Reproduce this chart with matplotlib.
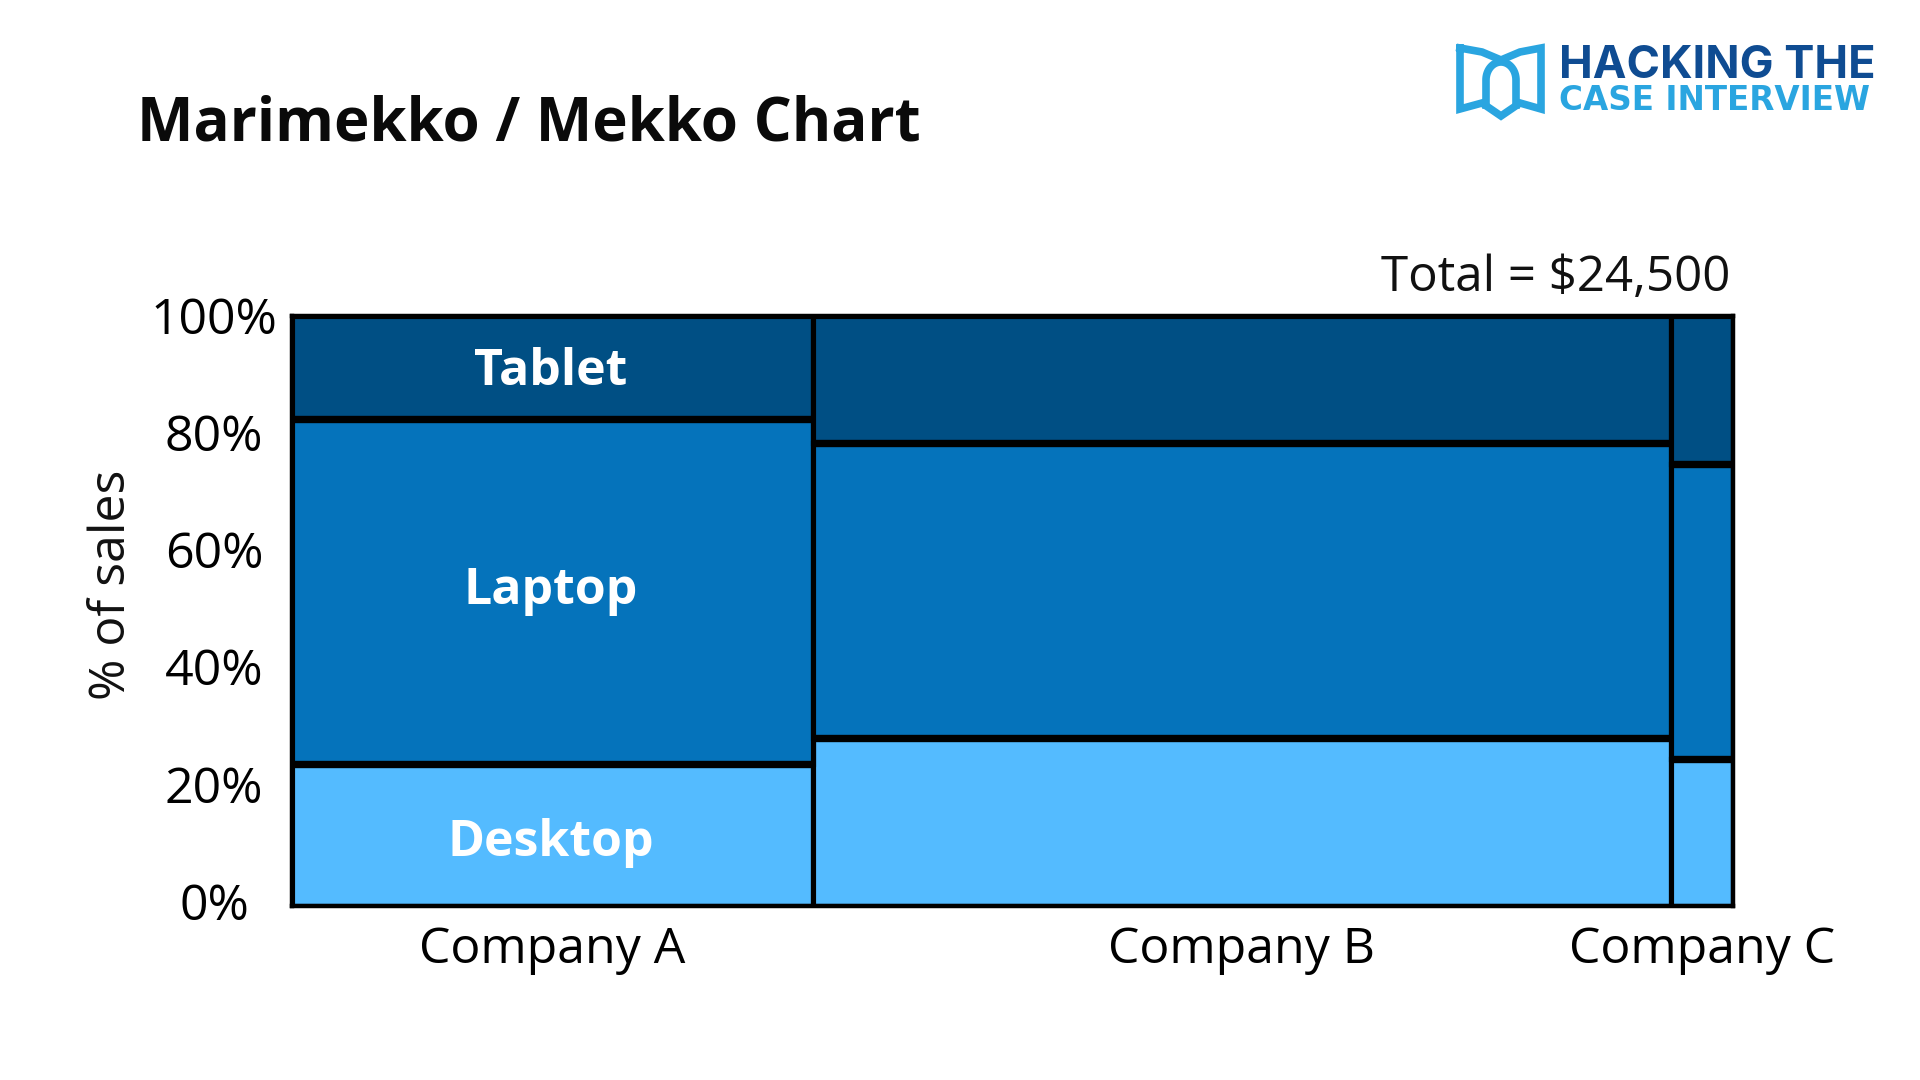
#
# Marimekko chart of sales share by company and product type.
#

import matplotlib
matplotlib.use('Agg')
import matplotlib.pyplot as plt
from matplotlib.transforms import ScaledTranslation
import numpy as np


#######################################################################


companies = ['Company A', 'Company B', 'Company C']
company_sales = [8850, 14600, 1050]

products = ['Desktop', 'Laptop', 'Tablet']
desktop_share = [24.0, 28.5, 25.0]
laptop_share = [58.5, 50.0, 50.0]
tablet_share = [17.5, 21.5, 25.0]

y_ticks = [0, 20, 40, 60, 80, 100]
total_label = 'Total = $24,500'

colours = ['#54BBFF', '#0573BB', '#004F84']


#######################################################################


plt.rcParams['font.family'] = ['Open Sans', 'DejaVu Sans']

W, H = 1920, 1080
fig = plt.figure(figsize = (W / 100, H / 100), dpi = 100, facecolor = 'white')

# The chart axes, placed in pixels.
left, right, top, bottom = 292, 1733, 316, 906
ax = fig.add_axes([left / W, 1 - bottom / H, (right - left) / W, (bottom - top) / H])

widths = np.array(company_sales, dtype = float)
x_left = np.concatenate(([0], np.cumsum(widths)[:-1]))
shares = np.array([desktop_share, laptop_share, tablet_share])

# Stack the segments of each company, width proportional to its sales.
base = np.zeros(len(companies))
for share, colour in zip(shares, colours):
    ax.bar(x_left, share, width = widths, bottom = base, align = 'edge',
           color = colour, edgecolor = 'black', linewidth = 3.7)
    base = base + share

# Horizontal dividers are heavier than the vertical ones.
tops = np.cumsum(shares, axis = 0)[:-1]
for level in tops:
    ax.hlines(level, x_left, x_left + widths, color = 'black', linewidth = 5.3,
              zorder = 3)

ax.set_xlim(0, widths.sum())
ax.set_ylim(0, 100)

for spine in ax.spines.values():
    spine.set_linewidth(3.2)
    spine.set_zorder(4)

ax.set_xticks(x_left + widths / 2)
ax.set_xticklabels(companies, fontsize = 36)
ax.set_yticks(y_ticks)
ax.set_yticklabels([str(t) + '%' for t in y_ticks], fontsize = 36, ha = 'center')
ax.tick_params(axis = 'x', length = 0, pad = 14)
ax.tick_params(axis = 'y', length = 0, pad = 56)

# The lower percentage labels ride slightly above their levels.
for label, t in zip(ax.get_yticklabels(), y_ticks):
    lift = (5 - 0.04 * t) / 100
    label.set_transform(label.get_transform()
                        + ScaledTranslation(0, lift, fig.dpi_scale_trans))

# Product names sit in the first company's column.
centre = x_left[0] + widths[0] / 2
mids = np.cumsum(shares[:, 0]) - shares[:, 0] / 2
nudge = {'Desktop': -1, 'Laptop': 5, 'Tablet': 1}
for name, mid in zip(products, mids):
    ax.annotate(name, (centre, mid), xytext = (-1, nudge[name]),
                textcoords = 'offset points', color = 'white', fontsize = 36,
                fontweight = 'bold', ha = 'center', va = 'center_baseline',
                zorder = 5)


#######################################################################


# Overlay in pixel coordinates for the title, notes and logo.
ov = fig.add_axes([0, 0, 1, 1], facecolor = 'none')
ov.set_xlim(0, W)
ov.set_ylim(H, 0)
ov.axis('off')

ov.text(137, 125, 'Marimekko / Mekko Chart', fontsize = 43.2, fontweight = 'bold',
        color = '#0A0A0A', ha = 'left', va = 'center')
ov.text(1730, 278, total_label, fontsize = 35.5, color = '#111111',
        ha = 'right', va = 'center')
ov.text(112, 585, '% of sales', fontsize = 36, color = '#111111', rotation = 90,
        ha = 'center', va = 'center')

# Logo: an open book outline with an arch inside.
sky, navy = '#2AA5E0', '#0F4C92'
ov.plot([1460, 1460, 1482, 1501, 1520, 1541, 1541, 1520, 1501, 1482, 1460],
        [48, 109, 103, 116, 103, 109, 48, 52, 60, 52, 48],
        color = sky, linewidth = 5.5, solid_joinstyle = 'miter')
arch_t = np.linspace(np.pi, 0, 40)
ov.plot(np.concatenate(([1486], 1501 + 15 * np.cos(arch_t), [1516])),
        np.concatenate(([105], 80 - 18 * np.sin(arch_t), [105])),
        color = sky, linewidth = 5.5)

ov.text(1559, 66, 'HACKING THE', family = 'Inter', fontsize = 32.5,
        fontweight = 'bold', color = navy, ha = 'left', va = 'center')
ov.text(1559, 100, 'CASE INTERVIEW', family = 'DejaVu Sans', fontsize = 23.5,
        fontweight = 'bold', color = sky, ha = 'left', va = 'center')

fig.savefig('out.png', dpi = 100)
